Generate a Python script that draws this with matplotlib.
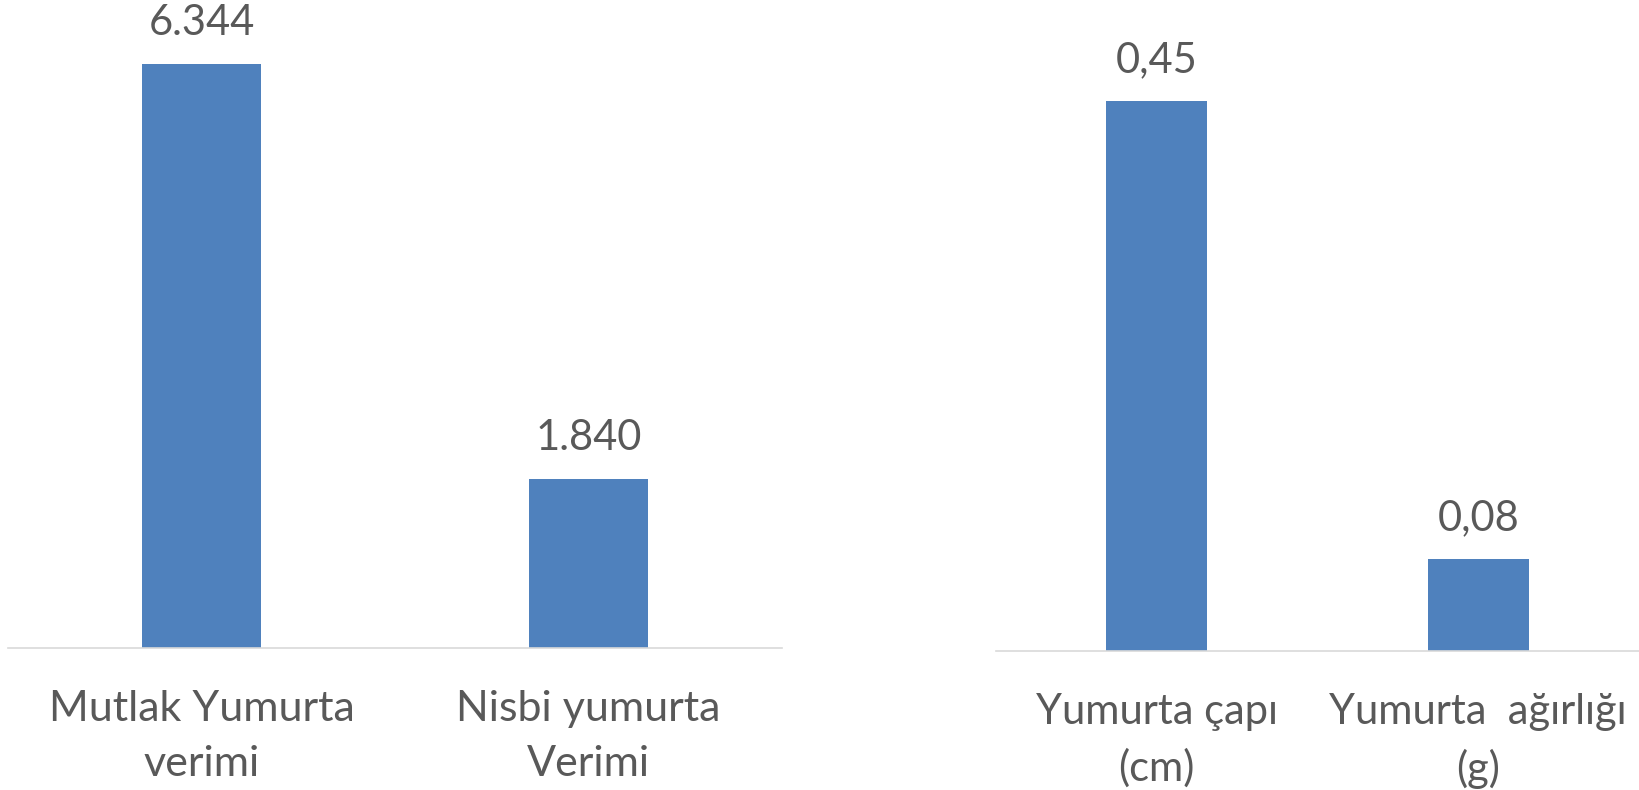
import matplotlib.pyplot as plt

# left panel: egg yield
yield_cats = ["Mutlak Yumurta\nverimi", "Nisbi yumurta\nVerimi"]
yield_vals = [6.344, 1.840]
yield_labels = ["6.344", "1.840"]

# right panel: egg size
egg_cats = ["Yumurta çapı\n(cm)", "Yumurta  ağırlığı\n(g)"]
egg_vals = [0.45, 0.075]
egg_labels = ["0,45", "0,08"]

BAR = "#4F81BD"
TXT = "#595959"
W, H = 1639, 790

plt.rcParams['font.family'] = ['Lato', 'DejaVu Sans']

fig = plt.figure(figsize=(W / 100, H / 100), dpi=100)
ax1 = fig.add_axes([8 / W, (H - 648) / H, 774 / W, 644 / H])
ax2 = fig.add_axes([996 / W, (H - 651) / H, 643 / W, 611 / H])


def draw(ax, cats, vals, labels, ymax, width, fs):
    x = range(len(cats))
    bars = ax.bar(x, vals, width=width, color=BAR, zorder=2)
    for b, lab in zip(bars, labels):
        ax.annotate(lab, (b.get_x() + b.get_width() / 2, b.get_height()),
                    xytext=(0, 21), textcoords="offset points",
                    ha="center", va="baseline", fontsize=30, color=TXT)
    ax.set_xlim(-0.5, len(cats) - 0.5)
    ax.set_ylim(0, ymax)
    ax.set_xticks(list(x))
    ax.set_xticklabels(cats, fontsize=fs, color=TXT, linespacing=1.55)
    ax.tick_params(axis="x", length=0, pad=30)
    ax.set_yticks([])
    for s in ["top", "left", "right"]:
        ax.spines[s].set_visible(False)
    ax.spines["bottom"].set_color("#D9D9D9")
    ax.spines["bottom"].set_linewidth(1.2)


draw(ax1, yield_cats, yield_vals, yield_labels, 7, 0.31, 31)
draw(ax2, egg_cats, egg_vals, egg_labels, 0.5, 0.315, 30)

fig.savefig("out.png", dpi=100)
